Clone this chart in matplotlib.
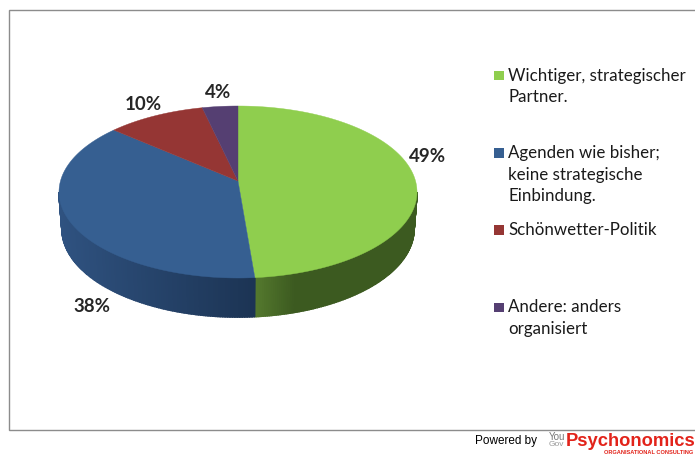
# Pie chart "strategischer Partner" with fake 3D side wall, drawn in pixel coordinates of the picture.
import numpy as np
import matplotlib
matplotlib.use('Agg')
import matplotlib.pyplot as plt
from matplotlib.patches import Rectangle

# DATA ---------------------------------------------------------------------------------------------
categories = ['Wichtiger, strategischer\nPartner.',
              'Agenden wie bisher;\nkeine strategische\nEinbindung.',
              'Schönwetter-Politik',
              'Andere: anders\norganisiert']
shares = [48.5, 39.3, 9.0, 3.2]   # slice sizes as measured on the picture
pct_labels = ['49%', '38%', '10%', '4%']
# --------------------------------------------------------------------------------------------------

# STYLE --------------------------------------------------------------------------------------------
top_colors = ['#8fce4e', '#365f91', '#953634', '#553f72']
wall_colors = {0: ('#557a2e', '#3c5a20'), 1: ('#2f5280', '#1c3454')}
cx, cy, rx, ry = 238, 192, 179, 86
bx, by, brx, bry = 238, 229, 176, 88   # lower rim of the wall, a bit narrower
apex_y = 181
pct_pos = [(428, 156), (92, 307), (143, 105), (218, 92)]
legend_y = [75, 152.5, 229.5, 307]
# --------------------------------------------------------------------------------------------------

plt.rcParams['font.family'] = ['Lato', 'DejaVu Sans']

fig = plt.figure(figsize=(6.95, 4.55), dpi=100)
ax = fig.add_axes([0, 0, 1, 1])
ax.set_xlim(0, 695)
ax.set_ylim(455, 0)
ax.axis('off')

# frame
ax.add_patch(Rectangle((8.5, 10), 700, 419.5, fc='white', ec='#8c8c8c', lw=1))


def rim(a):
    return cx + rx * np.sin(a), cy - ry * np.cos(a)


def lower_rim(a):
    return bx + brx * np.sin(a), by - bry * np.cos(a)


edges = np.radians(np.cumsum([0] + shares) / sum(shares) * 360)

# side wall, only front half is visible
for i in wall_colors:
    a0 = max(edges[i], np.pi / 2)
    a1 = min(edges[i + 1], 1.5 * np.pi)
    steps = np.linspace(a0, a1, 120)
    c0 = np.array(matplotlib.colors.to_rgb(wall_colors[i][0]))
    c1 = np.array(matplotlib.colors.to_rgb(wall_colors[i][1]))
    xs, ys = rim(steps)
    xb, yb = lower_rim(steps)
    for k in range(len(steps) - 1):
        t = (xs[k] - xs.min()) / (xs.max() - xs.min())
        if i == 0:
            col = c0 + (c1 - c0) * min(t * 4, 1)
        else:
            col = c0 + (c1 - c0) * t
        ax.fill([xs[k], xs[k + 1], xb[k + 1], xb[k]],
                [ys[k], ys[k + 1], yb[k + 1], yb[k]],
                fc=col, ec=col, lw=1.2)

# top face
for i, col in enumerate(top_colors):
    steps = np.linspace(edges[i], edges[i + 1], 200)
    xs, ys = rim(steps)
    ax.fill(np.r_[cx, xs], np.r_[apex_y, ys], color=col, lw=0.3)

for lab, (x, y) in zip(pct_labels, pct_pos):
    ax.text(x, y, lab, fontsize=13.5, fontweight='bold', color='#262626', ha='center', va='center')

# legend
for name, col, y in zip(categories, top_colors, legend_y):
    ax.add_patch(Rectangle((493.5, y - 4.5), 10, 9.5, fc=col, ec='none'))
    ax.text(508, y - 7.5, name, fontsize=12.2, color='#1a1a1a', va='top', linespacing=1.43)

# footer
ax.text(475, 441, 'Powered by', fontsize=8.5, family='Liberation Sans', color='black', va='center')
ax.text(549, 437, 'You', fontsize=7, family='Liberation Sans', color='#777777', va='center')
ax.text(549, 444.5, 'Gov', fontsize=6, family='Liberation Sans', color='#999999', va='center')
ax.text(566, 441, 'Psychonomics', fontsize=13.2, family='Liberation Sans', fontweight='bold',
        color='#e2231a', va='center')
ax.text(604, 452.5, 'ORGANISATIONAL CONSULTING', fontsize=4.1, family='Liberation Sans', fontweight='bold',
        color='#e2231a', va='center')

fig.savefig('out.png', dpi=100)
